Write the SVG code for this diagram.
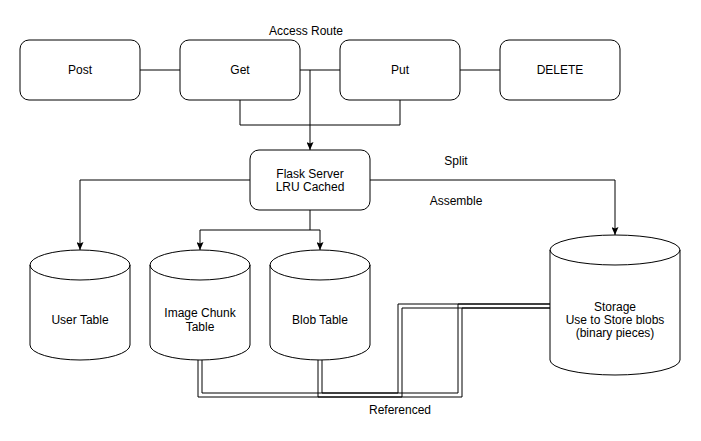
<svg xmlns="http://www.w3.org/2000/svg" width="701" height="441" viewBox="0 0 701 441">
<style>
  .box { fill: #ffffff; stroke: #000000; stroke-width: 1; }
  .cyl { fill: #ffffff; stroke: #000000; stroke-width: 1; }
  .edge { fill: none; stroke: #000000; stroke-width: 1; }
  .lbl { font-family: "Liberation Sans", Arial, Helvetica, sans-serif; font-size: 12px; fill: #000000; text-anchor: middle; }
</style>
<defs>
  <marker id="arr" viewBox="0 0 8 7" refX="8" refY="3.5" markerWidth="8" markerHeight="7" orient="auto" markerUnits="userSpaceOnUse">
    <path d="M0,0 L8,3.5 L0,7 L1.5,3.5 Z" fill="#000000"/>
  </marker>
</defs>
<rect width="701" height="441" fill="#ffffff"/>

<g id="connectors">
  <path class="edge" d="M140,70 H180"/>
  <path class="edge" d="M300,70 H340"/>
  <path class="edge" d="M460,70 H500"/>
  <path class="edge" d="M240,100 V125 H400 V100"/>
  <path class="edge" d="M310,70 V150" marker-end="url(#arr)"/>
  <path class="edge" d="M250,180 H80 V250" marker-end="url(#arr)"/>
  <path class="edge" d="M370,180 H615 V235" marker-end="url(#arr)"/>
  <path class="edge" d="M310,210 V230 H200 V250" marker-end="url(#arr)"/>
  <path class="edge" d="M310,230 H320 V250" marker-end="url(#arr)"/>
  <path class="edge" d="M198,360 V397 H462 V308 H550"/>
  <path class="edge" d="M202,360 V393 H458 V304 H550"/>
  <path class="edge" d="M318,360 V397 H402 V308 H550"/>
  <path class="edge" d="M322,360 V393 H398 V304 H550"/>
  <text class="lbl" x="306" y="35">Access Route</text>
  <text class="lbl" x="456" y="165">Split</text>
  <text class="lbl" x="456" y="205">Assemble</text>
  <text class="lbl" x="400" y="414">Referenced</text>
</g>

<g id="post">
  <rect class="box" x="20" y="40" width="120" height="60" rx="9" ry="9"/>
  <text class="lbl" x="80" y="74">Post</text>
</g>
<g id="get">
  <rect class="box" x="180" y="40" width="120" height="60" rx="9" ry="9"/>
  <text class="lbl" x="240" y="74">Get</text>
</g>
<g id="put">
  <rect class="box" x="340" y="40" width="120" height="60" rx="9" ry="9"/>
  <text class="lbl" x="400" y="74">Put</text>
</g>
<g id="delete">
  <rect class="box" x="500" y="40" width="120" height="60" rx="9" ry="9"/>
  <text class="lbl" x="560" y="74">DELETE</text>
</g>
<g id="flask">
  <rect class="box" x="250" y="150" width="120" height="60" rx="9" ry="9"/>
  <text class="lbl" x="310" y="177.5">Flask Server</text>
  <text class="lbl" x="310" y="191">LRU Cached</text>
</g>

<g id="user-table">
  <path class="cyl" d="M30,265 A50,15 0 0 1 130,265 V345 A50,15 0 0 1 30,345 Z"/>
  <path class="edge" d="M30,265 A50,15 0 0 0 130,265"/>
  <text class="lbl" x="80" y="324">User Table</text>
</g>
<g id="image-chunk-table">
  <path class="cyl" d="M150,265 A50,15 0 0 1 250,265 V345 A50,15 0 0 1 150,345 Z"/>
  <path class="edge" d="M150,265 A50,15 0 0 0 250,265"/>
  <text class="lbl" x="200" y="317">Image Chunk</text>
  <text class="lbl" x="200" y="330.5">Table</text>
</g>
<g id="blob-table">
  <path class="cyl" d="M270,265 A50,15 0 0 1 370,265 V345 A50,15 0 0 1 270,345 Z"/>
  <path class="edge" d="M270,265 A50,15 0 0 0 370,265"/>
  <text class="lbl" x="320" y="324">Blob Table</text>
</g>
<g id="storage">
  <path class="cyl" d="M550,250 A65,15 0 0 1 680,250 V360 A65,15 0 0 1 550,360 Z"/>
  <path class="edge" d="M550,250 A65,15 0 0 0 680,250"/>
  <text class="lbl" x="615" y="311">Storage</text>
  <text class="lbl" x="615" y="324">Use to Store blobs</text>
  <text class="lbl" x="615" y="337">(binary pieces)</text>
</g>
</svg>
